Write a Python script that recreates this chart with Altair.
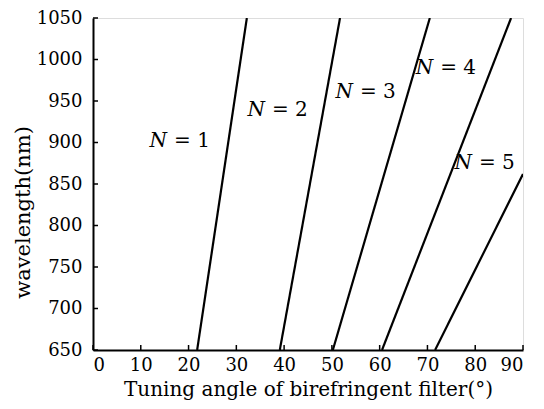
import altair as alt
import pandas as pd

# line endpoints (angle in degrees, wavelength in nm)
orders = [1, 1, 2, 2, 3, 3, 4, 4, 5, 5]
angles = [21.8, 32.2, 39.1, 51.7, 50.2, 70.5, 60.5, 87.5, 71.6, 90.0]
wavelengths = [650, 1050, 650, 1050, 650, 1050, 650, 1050, 650, 862]

# label anchors (end of the italic "N")
label_orders = [1, 2, 3, 4, 5]
label_x = [15.5, 36.0, 54.4, 71.2, 79.3]
label_y = [902, 939, 961, 990, 875]
label_rest = ["= 1", "= 2", "= 3", "= 4", "= 5"]

x_ticks = list(range(0, 91, 10))
y_ticks = list(range(650, 1051, 50))

W, H = 430, 332

lines_df = pd.DataFrame({"N": orders, "angle": angles, "wl": wavelengths})
labels_df = pd.DataFrame({"N": label_orders, "angle": label_x, "wl": label_y,
                          "rest": label_rest, "n": ["N"] * 5})
xt_df = pd.DataFrame({"v": x_ticks})
yt_df = pd.DataFrame({"v": y_ticks})

FONT = "DejaVu Serif"

xs = alt.Scale(domain=[0, 90], nice=False, zero=False)
ys = alt.Scale(domain=[650, 1050], nice=False, zero=False)

x_axis = alt.Axis(values=x_ticks, format="d", title="Tuning angle of birefringent filter(°)",
                  grid=False, ticks=False, labelPadding=6, titleY=39, titleBaseline="middle",
                  titleFont=FONT, titleFontSize=20, titleFontWeight="normal",
                  labelFont=FONT, labelFontSize=18,
                  domainColor="black", domainWidth=2,
                  labelColor="black", titleColor="black")
y_axis = alt.Axis(values=y_ticks, format="d", title="wavelength(nm)",
                  grid=False, ticks=False, labelPadding=11, titleX=-70, titleY=194,
                  titleBaseline="middle", titleAngle=-90, titleAlign="center",
                  titleFont=FONT, titleFontSize=21, titleFontWeight="normal",
                  labelFont=FONT, labelFontSize=18, domainColor="black", domainWidth=2,
                  labelColor="black", titleColor="black")

lines = alt.Chart(lines_df).mark_line(color="black", strokeWidth=2.2, clip=True).encode(
    x=alt.X("angle:Q", scale=xs, axis=x_axis),
    y=alt.Y("wl:Q", scale=ys, axis=y_axis),
    detail="N:N",
)

xticks = alt.Chart(xt_df).mark_rule(color="black", strokeWidth=1.5).encode(
    x=alt.X("v:Q", scale=xs), y=alt.value(H), y2=alt.value(H - 5))
yticks = alt.Chart(yt_df).mark_rule(color="black", strokeWidth=1.5).encode(
    y=alt.Y("v:Q", scale=ys), x=alt.value(0), x2=alt.value(5))

n_text = alt.Chart(labels_df).mark_text(font=FONT, fontSize=20, fontStyle="italic",
                                        align="right", baseline="middle", color="black").encode(
    x=alt.X("angle:Q", scale=xs), y=alt.Y("wl:Q", scale=ys), text="n:N")

rest_text = alt.Chart(labels_df).mark_text(font=FONT, fontSize=20, align="left", dx=7,
                                           baseline="middle", color="black").encode(
    x=alt.X("angle:Q", scale=xs), y=alt.Y("wl:Q", scale=ys), text="rest:N")

chart = alt.layer(lines, xticks, yticks, n_text, rest_text).properties(
    width=W, height=H,
    autosize=alt.AutoSizeParams(type="none"),
    padding={"left": 85, "top": 10, "right": 13, "bottom": 51},
).configure_view(stroke="black", strokeWidth=1.5).configure(background="white")

chart.save("out.html", embed_options={"renderer": "svg", "actions": False})
